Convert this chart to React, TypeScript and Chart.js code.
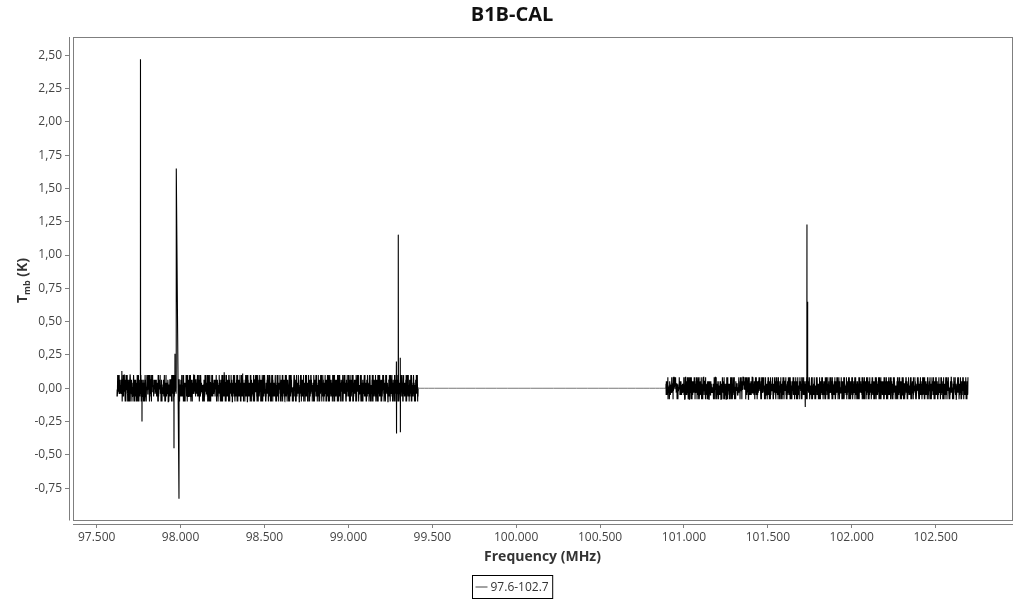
import React, { useEffect, useRef } from "react";
import { Chart, registerables } from "chart.js";

Chart.register(...registerables);

// ---------- data ----------
const TITLE = "B1B-CAL";
const X_TITLE = "Frequency (MHz)";
const SERIES_LABEL = "97.6-102.7";

const xTickValues = [97.5, 98, 98.5, 99, 99.5, 100, 100.5, 101, 101.5, 102, 102.5];
const xTickLabels = ["97.500", "98.000", "98.500", "99.000", "99.500", "100.000", "100.500", "101.000", "101.500", "102.000", "102.500"];
const yTickValues = [-0.75, -0.5, -0.25, 0, 0.25, 0.5, 0.75, 1, 1.25, 1.5, 1.75, 2, 2.25, 2.5];
const yTickLabels = ["-0,75", "-0,50", "-0,25", "0,00", "0,25", "0,50", "0,75", "1,00", "1,25", "1,50", "1,75", "2,00", "2,25", "2,50"];

const xMin = 97.335;
const xMax = 102.955;
const yMin = -1.019;
const yMax = 2.637;

// two observed bands (MHz)
const leftBand = [97.621, 99.415];
const rightBand = [100.893, 102.6925];

// baseline noise per channel, one digit per channel, looked up in noiseLevels
const leftNoiseDigits = [
  "1415926535", "8979323846", "2643383279", "5028841971", "6939937510", "5820974944", "5923078164", "0628620899", "8628034825", "3421170679",
  "8214808651", "3282306647", "0938446095", "5058223172", "5359408128", "4811174502", "8410270193", "8521105559", "6446229489", "5493038196",
  "4428810975", "6659334461", "2847564823", "3786783165", "2712019091", "4564856692", "3460348610", "4543266482", "1339360726", "0249141273",
  "7245870066", "0631558817", "4881520920", "9628292540", "9171536436", "7892590360", "0113305305", "4882046652", "1384146951", "9415116094",
  "3305727036", "5759591953", "0921861173", "8193261179", "3105118548", "0744623799", "6274956735", "1885752724", "8912279381", "8301194912",
  "9833673362", "4406566430", "8602139494", "6395224737", "1907021798", "6094370277", "0539217176", "2931767523", "8467481846", "7669405132",
  "8575016455", "3927481605", "2718306942", "6049185372", "1836495027", "7502938416", "4168273095", "9381046527", "5294718360", "0637259481",
  "3849106275", "6172849305", "2906581743", "8415392607", "5073916824", "1928470536", "7364028159", "4851739260", "0295847136", "6713250984",
  "9460831572", "2537609148", "8102475963", "3684912075", "5971036248", "1249758360", "7836104592", "4023689715", "6598273401", "0317546829",
  "8745102936", "2169843057", "5430796812", "9082361574", "3715489620", "6251073948", "1893620457", "4576928103", "7038154692", "0964387251",
  "5820139746", "3197465082", "8643210579", "2405798316", "6978352401", "1352046897", "9716583024", "4089271635", "7264938510", "0531627984",
  "3906814257", "8152790463", "2674035918", "5489162730", "1720594386", "6043817295", "9385726041", "4617309852", "0258143679", "7891465023",
  "2749163058", "6015382974", "3892057416", "9468120735", "1357924680", "5820471396", "7163095842", "0492738615", "8634517029", "4216980357",
  "9057341862", "2381675094", "6740192583", "1925806473", "5478031269", "3016457928", "8593264107", "0827149356", "7361928540", "4659703182",
  "1284395670", "6930517248", "3547286019", "8102654937", "5789013462", "2463897105", "9216074538", "0675342891", "4891756320", "7038261954",
  "3524670189", "8197405263", "6250839714", "0943128576", "7418592036", "1685307429", "5072946381", "9341865702", "2806713495", "6459280137",
  "4173029865", "8926547310", "0354861297", "7610495823", "3289176054", "5847302619", "1905638472", "6132784590", "9568013247", "2470156938",
  "8315942706", "0689273415", "5736418092", "3054897621", "7923160548", "4162539870", "9807352164", "1598627403", "6241085739", "2876493051",
].join("");
const rightNoiseDigits = [
  "7182818284", "5904523536", "0287471352", "6624977572", "4709369995", "9574966967", "6277240766", "3035354759", "4571382178", "5251664274",
  "2746639193", "2003059921", "8174135966", "2904357290", "0334295260", "5956307381", "3232862794", "3490763233", "8298807531", "9525101901",
  "1573834187", "9307021540", "8914993488", "4167509244", "7614606680", "8226480016", "8477411853", "7423454424", "3710753907", "7744992069",
  "5517027618", "3860626133", "1384583000", "7520449338", "2656029760", "6737113200", "7093287091", "2744374704", "7230696977", "2093101416",
  "9283681902", "5515108657", "4637721112", "5238978442", "5056953696", "7707854499", "6996794686", "4454905987", "9316368892", "3009879312",
  "7736178215", "4249992295", "7635148220", "8269895193", "6680331825", "2886939849", "6465105820", "9392398294", "8879332036", "2509443117",
  "4630528197", "1975340682", "8209617435", "5348796201", "0716452938", "6581029374", "2937184605", "9124563087", "3862907154", "7405381926",
  "1590263748", "8347915062", "4071836259", "6214759380", "9758402613", "0483675921", "5926130847", "2619548073", "7850293416", "3162087495",
  "6834710259", "0297356814", "9541862370", "4718023695", "1063495782", "7385920146", "2456178903", "8920364517", "5179846032", "3602519478",
  "9813457206", "4275091638", "0648723591", "6392840715", "1587362049", "8024619357", "3751904862", "5106387924", "7469258130", "2938076415",
  "6147829503", "0815364297", "4392507186", "9670183452", "2253946708", "5784021639", "8019675324", "3461298057", "1728534690", "7596103842",
  "0374862915", "6902413758", "3285790641", "9438152076", "5861037429", "1047925683", "7623548190", "4519760328", "2190634875", "8706291543",
  "5293806174", "0841975263", "7360128495", "2915463807", "8476031952", "3609857214", "1238749560", "6594210387", "9027386451", "4781562039",
  "0352918746", "7619043285", "2048657913", "8135769402", "5962381074", "3407195628", "9874520316", "1526038749", "6083714295", "4791260583",
  "8250473961", "1639805427", "7405126839", "3928641075", "0587392614", "6213578940", "9164035782", "2870916453", "5349287106", "7012654398",
  "4698310527", "0235879164", "8561402739", "3127965840", "6904238157", "1476583092", "9752140368", "5389601274", "2041793586", "7615928043",
  "3860472915", "9214658307", "0573189642", "6427305198", "1985764230", "8340912576", "4702638951", "2159047863", "7896521034", "5031486729",
  "9628734015", "3175092648", "6849213570", "0416357892", "8293640157", "1537982406", "5082716394", "7964051283", "2318469705", "4650873129",
].join("");
// digit -> fraction of the band half-width
const noiseLevels = [-1.0, -0.62, -0.42, -0.26, -0.1, 0.08, 0.25, 0.42, 0.64, 1.0];
const leftNoiseAmp = 0.1;
const rightNoiseAmp = 0.082;

// line features (MHz, K)
const spikeFreqs = [97.65, 97.761, 97.770, 97.9607, 97.9666, 97.9744, 97.9905, 98.26, 98.37, 99.2862, 99.2870, 99.2974, 99.3093, 99.3100, 101.7229, 101.7330, 101.7372];
const spikeValues = [0.13, 2.47, -0.25, -0.45, 0.26, 1.65, -0.83, 0.12, 0.11, 0.20, -0.34, 1.15, 0.23, -0.33, -0.14, 1.23, 0.65];
// channels blanked around the strongest absorption feature
const blankRanges = [[97.9750, 97.9900]];

// flat baseline between the two bands
const gapFreqs = [99.4158, 100.8925];
const gapValues = [0, 0];

// ---------- helpers ----------
function bandPoints(band: number[], digits: string, amp: number) {
  const n = digits.length;
  const pts: { x: number; y: number }[] = [];
  for (let i = 0; i < n; i++) {
    const x = band[0] + (i * (band[1] - band[0])) / (n - 1);
    if (blankRanges.some((r) => x > r[0] && x < r[1])) continue;
    pts.push({ x, y: noiseLevels[Number(digits[i])] * amp });
  }
  return pts;
}

function buildSeries() {
  const pts = [
    ...bandPoints(leftBand, leftNoiseDigits, leftNoiseAmp),
    ...bandPoints(rightBand, rightNoiseDigits, rightNoiseAmp),
    ...spikeFreqs.map((f, i) => ({ x: f, y: spikeValues[i] })),
    ...gapFreqs.map((f, i) => ({ x: f, y: gapValues[i] })),
  ];
  pts.sort((a, b) => a.x - b.x);
  return pts;
}

const FONT = "'Open Sans', 'DejaVu Sans', sans-serif";

const decorations = {
  id: "decorations",
  beforeDatasetsDraw(chart: any) {
    const { ctx, chartArea } = chart;
    ctx.save();
    ctx.strokeStyle = "#7f7f7f";
    ctx.lineWidth = 1;
    ctx.strokeRect(chartArea.left + 4.5, chartArea.top + 0.5, chartArea.right - chartArea.left - 4, chartArea.bottom - chartArea.top - 4);
    ctx.restore();
  },
  afterDraw(chart: any) {
    const { ctx, chartArea, width } = chart;
    ctx.save();
    // axis lines
    ctx.strokeStyle = "#7f7f7f";
    ctx.lineWidth = 1;
    ctx.beginPath();
    ctx.moveTo(chartArea.left + 0.5, chartArea.top);
    ctx.lineTo(chartArea.left + 0.5, chartArea.bottom - 3.5);
    ctx.moveTo(chartArea.left + 4, chartArea.bottom + 0.5);
    ctx.lineTo(chartArea.right + 1, chartArea.bottom + 0.5);
    ctx.stroke();

    // title
    ctx.fillStyle = "#111";
    ctx.font = `bold 20px ${FONT}`;
    ctx.textAlign = "center";
    ctx.textBaseline = "middle";
    ctx.fillText(TITLE, width / 2, 15);

    // x title
    ctx.fillStyle = "#333";
    ctx.font = `bold 14px ${FONT}`;
    ctx.fillText(X_TITLE, (chartArea.left + 4 + chartArea.right) / 2, 557);

    // y title: T_mb (K)
    const cy = (chartArea.top + chartArea.bottom - 4) / 2 + 2;
    ctx.translate(27, cy);
    ctx.rotate(-Math.PI / 2);
    ctx.textAlign = "left";
    ctx.textBaseline = "alphabetic";
    const big = `bold 14px ${FONT}`;
    const small = `bold 9px ${FONT}`;
    ctx.font = big;
    const wT = ctx.measureText("T").width;
    const wK = ctx.measureText(" (K)").width;
    ctx.font = small;
    const wS = ctx.measureText("mb").width;
    const x0 = -(wT + wS + wK) / 2;
    ctx.font = big;
    ctx.fillText("T", x0, 0);
    ctx.font = small;
    ctx.fillText("mb", x0 + wT, 3);
    ctx.font = big;
    ctx.fillText(" (K)", x0 + wT + wS, 0);
    ctx.setTransform(1, 0, 0, 1, 0, 0);

    // legend
    ctx.font = `12px ${FONT}`;
    const tw = ctx.measureText(SERIES_LABEL).width;
    const boxW = 3 + 12 + 3 + tw + 4;
    const bx = Math.round(width / 2 - boxW / 2) + 0.5;
    const by = 575.5;
    ctx.strokeStyle = "#000";
    ctx.strokeRect(bx, by, boxW, 23);
    ctx.strokeStyle = "#444";
    ctx.beginPath();
    ctx.moveTo(bx + 3, by + 11.5);
    ctx.lineTo(bx + 15, by + 11.5);
    ctx.stroke();
    ctx.fillStyle = "#333";
    ctx.textAlign = "left";
    ctx.textBaseline = "middle";
    ctx.fillText(SERIES_LABEL, bx + 18, by + 12);
    ctx.restore();
  },
};

const inGap = (c: any) => c.p0.parsed.x >= gapFreqs[0] - 1e-9 && c.p1.parsed.x <= gapFreqs[1] + 1e-9;

export default function App() {
  const ref = useRef<HTMLCanvasElement | null>(null);

  useEffect(() => {
    document.body.style.margin = "0";
    const canvas = ref.current;
    if (!canvas) return;
    const chart = new Chart(canvas, {
      type: "line",
      data: {
        datasets: [
          {
            label: SERIES_LABEL,
            data: buildSeries(),
            borderColor: "#000",
            borderWidth: 1.1,
            pointRadius: 0,
            // a non-zero (negligible) tension keeps Chart.js from collapsing
            // dense channels into one min/max bar per pixel column
            tension: 0.000001,
            fill: false,
            segment: {
              borderWidth: (c: any) => (inGap(c) ? 1 : undefined),
              borderColor: (c: any) => (inGap(c) ? "#777" : undefined),
            },
          },
        ],
      },
      options: {
        animation: false,
        responsive: false,
        devicePixelRatio: 1,
        layout: { padding: { top: 37, right: 12, left: 0, bottom: 0 } },
        plugins: { legend: { display: false }, tooltip: { enabled: false }, title: { display: false } },
        scales: {
          x: {
            type: "linear",
            min: xMin,
            max: xMax,
            afterFit: (s: any) => {
              s.height = 76;
            },
            afterBuildTicks: (s: any) => {
              s.ticks = xTickValues.map((v) => ({ value: v }));
            },
            ticks: {
              autoSkip: false,
              maxRotation: 0,
              padding: 2,
              color: "#444",
              font: { family: FONT, size: 12 },
              callback: (_v: any, i: number) => xTickLabels[i],
            },
            grid: { display: true, drawOnChartArea: false, drawTicks: true, tickLength: 4, color: "#7f7f7f" },
            border: { display: false },
          },
          y: {
            type: "linear",
            min: yMin,
            max: yMax,
            afterFit: (s: any) => {
              s.width = 69;
            },
            afterBuildTicks: (s: any) => {
              s.ticks = yTickValues.map((v) => ({ value: v }));
            },
            ticks: {
              autoSkip: false,
              padding: 3,
              color: "#444",
              font: { family: FONT, size: 12 },
              callback: (_v: any, i: number) => yTickLabels[i],
            },
            grid: { display: true, drawOnChartArea: false, drawTicks: true, tickLength: 4, color: "#7f7f7f" },
            border: { display: false },
          },
        },
      },
      plugins: [decorations],
    } as any);
    return () => chart.destroy();
  }, []);

  return (
    <div style={{ position: "absolute", left: 0, top: 0, width: 1024, height: 600, background: "#fff" }}>
      <canvas ref={ref} width={1024} height={600} style={{ width: 1024, height: 600, display: "block" }} />
    </div>
  );
}
